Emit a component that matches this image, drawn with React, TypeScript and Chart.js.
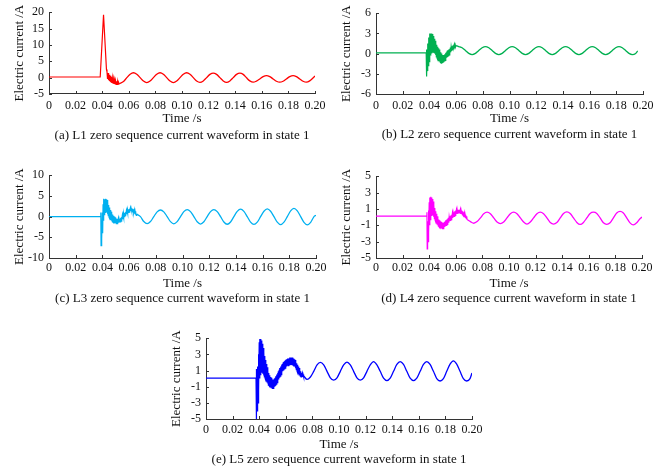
import React, { useEffect, useRef } from 'react';
import { Chart, registerables } from 'chart.js';

Chart.register(...registerables);

type Pt = [number, number];

// ---------- DATA (time in s, current in A) ----------
const timeTicks = { min: 0, max: 0.2, step: 0.02 };
const xTitle = 'Time /s';
const yTitle = 'Electric current /A';

// L1
const l1Transient: Pt[] = [
  [0, 0.2], [0.0385, 0.2], [0.041, 19.2], [0.0432, 2.5], [0.0436, 1.8], [0.044, -0.4], [0.0444, 1.4],
  [0.0448, -0.8], [0.0452, 0.9], [0.0456, -1.1], [0.046, 0.6], [0.0464, -1.4], [0.0468, 0.2],
  [0.0472, -1.6], [0.0476, -0.1], [0.048, -1.8], [0.0484, -0.4], [0.0488, -1.9], [0.0492, -0.7],
  [0.0496, -2.0], [0.05, -0.9], [0.0504, -2.1], [0.0508, -1.1], [0.0512, -2.1], [0.0516, -1.3],
  [0.052, -2.0], [0.0524, -1.5], [0.0528, -1.9],
];
const l1Steady: Pt[] = [
  [0.0528, -1.9], [0.056, -1.2], [0.0585, 0], [0.061, 1.05], [0.0635, 1.5], [0.066, 1.05], [0.0685, 0],
  [0.071, -1.05], [0.0735, -1.5], [0.076, -1.05], [0.0785, 0], [0.081, 1.05], [0.0835, 1.5], [0.086, 1.05],
  [0.0885, 0], [0.091, -1.05], [0.0935, -1.5], [0.096, -1.05], [0.0985, 0], [0.101, 1.05], [0.1035, 1.5],
  [0.106, 1.05], [0.1085, 0], [0.111, -1.05], [0.1135, -1.45], [0.116, -1.0], [0.1185, 0], [0.121, 1.0],
  [0.1235, 1.4], [0.126, 1.0], [0.1285, 0], [0.131, -1.0], [0.1335, -1.45], [0.136, -1.0], [0.1385, 0],
  [0.141, 1.0], [0.1435, 1.4], [0.146, 1.0], [0.1485, -0.05], [0.151, -1.0], [0.1535, -1.4], [0.156, -1.05],
  [0.1585, -0.4], [0.161, 0.3], [0.1635, 0.6], [0.166, 0.3], [0.1685, -0.4], [0.171, -1.1], [0.1735, -1.4],
  [0.176, -1.1], [0.1785, -0.4], [0.181, 0.3], [0.1835, 0.6], [0.186, 0.3], [0.1885, -0.4], [0.191, -1.1],
  [0.1935, -1.4], [0.196, -1.0], [0.2, 0.5],
];

// L2
const l2Transient: Pt[] = [
  [0, 0.1], [0.0376, 0.1], [0.0378, 0.6], [0.038, -3.4], [0.0383, 0.2], [0.0386, -2.6], [0.0389, 1.5],
  [0.0392, -1.8], [0.0395, 2.4], [0.0398, -1.2], [0.0401, 3.0], [0.0404, -0.6], [0.0407, 3.0], [0.041, -0.3],
  [0.0413, 2.9], [0.0416, 0.0], [0.0419, 3.0], [0.0422, 0.2], [0.0425, 2.9], [0.0428, 0.3], [0.0431, 2.6],
  [0.0434, 0.2], [0.0437, 2.2], [0.044, 0.0], [0.0443, 1.9], [0.0446, -0.2], [0.0449, 1.6], [0.0452, -0.5],
  [0.0455, 1.3], [0.0458, -0.7], [0.0461, 1.0], [0.0464, -0.9], [0.0467, 0.8], [0.047, -1.1], [0.0473, 0.6],
  [0.0476, -1.2], [0.0479, 0.4], [0.0482, -1.3], [0.0485, 0.2], [0.0488, -1.4], [0.0491, 0.0], [0.0494, -1.4],
  [0.0497, -0.2], [0.05, -1.4], [0.0503, -0.3], [0.0506, -1.3], [0.0509, -0.2], [0.0512, -1.1], [0.0515, -0.1],
  [0.0518, -1.0], [0.0521, 0.1], [0.0524, -0.8], [0.0527, 0.2], [0.053, -0.6], [0.0533, 0.4], [0.0536, -0.5],
  [0.0539, 0.5], [0.0542, -0.3], [0.0545, 0.6], [0.0548, -0.2], [0.0551, 0.7], [0.0554, 0.0], [0.0557, 0.9],
  [0.056, 0.2], [0.0563, 1.0], [0.0566, 0.4], [0.0569, 1.1], [0.0572, 0.6], [0.0575, 1.2], [0.0578, 0.8],
  [0.0581, 1.3], [0.0584, 1.0], [0.0587, 1.4], [0.059, 1.1], [0.0593, 1.3], [0.0596, 1.0], [0.06, 1.2],
];
const l2Steady: Pt[] = [
  [0.06, 1.2], [0.062, 1.05], [0.0645, 0.87], [0.067, 0.45], [0.0695, 0.03], [0.072, -0.15], [0.0745, 0.03],
  [0.077, 0.45], [0.0795, 0.87], [0.082, 1.05], [0.0845, 0.87], [0.087, 0.45], [0.0895, 0.03], [0.092, -0.15],
  [0.0945, 0.03], [0.097, 0.45], [0.0995, 0.87], [0.102, 1.05], [0.1045, 0.87], [0.107, 0.45], [0.1095, 0.03],
  [0.112, -0.15], [0.1145, 0.03], [0.117, 0.45], [0.1195, 0.87], [0.122, 1.05], [0.1245, 0.87], [0.127, 0.45],
  [0.1295, 0.03], [0.132, -0.15], [0.1345, 0.03], [0.137, 0.45], [0.1395, 0.87], [0.142, 1.05], [0.1445, 0.87],
  [0.147, 0.45], [0.1495, 0.03], [0.152, -0.15], [0.1545, 0.03], [0.157, 0.45], [0.1595, 0.87], [0.162, 1.05],
  [0.1645, 0.87], [0.167, 0.45], [0.1695, 0.03], [0.172, -0.15], [0.1745, 0.03], [0.177, 0.45], [0.1795, 0.87],
  [0.182, 1.05], [0.1845, 0.87], [0.187, 0.45], [0.1895, 0.03], [0.192, -0.15], [0.1945, 0.03], [0.196, 0.4],
];

// L3
const l3Transient: Pt[] = [
  [0, 0], [0.0387, 0], [0.0388, 1.0], [0.039, -7.0], [0.0393, -1.5], [0.0396, -5.5], [0.0399, 1.0],
  [0.0402, -4.0], [0.0405, 3.0], [0.0408, -1.0], [0.0411, 4.3], [0.0414, 0.5], [0.0417, 4.2], [0.042, 1.0],
  [0.0423, 4.3], [0.0426, 1.2], [0.0429, 4.2], [0.0432, 1.0], [0.0435, 4.0], [0.0438, 0.6], [0.0441, 3.5],
  [0.0444, 0.2], [0.0447, 2.8], [0.045, -0.2], [0.0453, 2.2], [0.0456, -0.5], [0.0459, 1.6], [0.0462, -0.8],
  [0.0465, 1.2], [0.0468, -1.0], [0.0471, 0.8], [0.0474, -1.2], [0.0477, 0.5], [0.048, -1.4], [0.0483, 0.2],
  [0.0486, -1.5], [0.0489, 0.0], [0.0492, -1.6], [0.0495, -0.2], [0.0498, -1.6], [0.0501, -0.4], [0.0504, -1.7],
  [0.0507, -0.5], [0.051, -1.7], [0.0513, -0.6], [0.0516, -1.6], [0.0519, -0.6], [0.0522, -1.5], [0.0525, -0.6],
  [0.0528, -1.4], [0.0531, -0.5], [0.0534, -1.3], [0.0537, -0.3], [0.054, -1.1], [0.0543, -0.1], [0.0546, -0.9],
  [0.0549, 0.2], [0.0552, -0.6], [0.0555, 0.4], [0.0558, -0.3], [0.0561, 0.7], [0.0564, 0.0], [0.0567, 0.9],
  [0.057, 0.2], [0.0573, 1.1], [0.0576, 0.4], [0.0579, 1.3], [0.0582, 0.6], [0.0585, 1.5], [0.0588, 0.8],
  [0.0591, 1.6], [0.0594, 1.0], [0.0597, 1.8], [0.06, 1.1], [0.0603, 1.9], [0.0606, 1.2], [0.0609, 2.0],
  [0.0612, 1.3], [0.0615, 2.0], [0.0618, 1.3], [0.0621, 2.0], [0.0624, 1.2], [0.0627, 1.9], [0.063, 1.1],
  [0.0633, 1.8], [0.0636, 0.9], [0.0639, 1.6], [0.0642, 0.7], [0.0645, 1.3], [0.0648, 0.5], [0.0651, 1.0],
  [0.0654, 0.3], [0.0657, 0.6],
];
const l3Steady: Pt[] = [
  [0.0657, 0.6], [0.0685, 0.0], [0.071, -1.2], [0.0735, -1.7], [0.076, -1.2], [0.0785, 0.0], [0.081, 1.15],
  [0.0835, 1.6], [0.086, 1.15], [0.0885, 0.0], [0.091, -1.2], [0.0935, -1.75], [0.096, -1.2], [0.0985, 0.0],
  [0.101, 1.2], [0.1035, 1.7], [0.106, 1.2], [0.1085, 0.0], [0.111, -1.25], [0.1135, -1.8], [0.116, -1.25],
  [0.1185, 0.0], [0.121, 1.2], [0.1235, 1.7], [0.126, 1.2], [0.1285, 0.0], [0.131, -1.3], [0.1335, -1.85],
  [0.136, -1.3], [0.1385, 0.0], [0.141, 1.25], [0.1435, 1.8], [0.146, 1.25], [0.1485, 0.0], [0.151, -1.35],
  [0.1535, -1.9], [0.156, -1.35], [0.1585, 0.0], [0.161, 1.3], [0.1635, 1.85], [0.166, 1.3], [0.1685, 0.0],
  [0.171, -1.35], [0.1735, -1.95], [0.176, -1.35], [0.1785, 0.0], [0.181, 1.4], [0.1835, 2.0], [0.186, 1.4],
  [0.1885, 0.0], [0.191, -1.4], [0.1935, -2.0], [0.196, -1.4], [0.1985, 0.0], [0.2, 0.3],
];

// L4
const l4Transient: Pt[] = [
  [0, 0.12], [0.0382, 0.12], [0.0383, 0.6], [0.0385, -3.9], [0.0388, -0.5], [0.0391, -3.0], [0.0394, 0.8],
  [0.0397, -2.0], [0.04, 1.8], [0.0403, -1.0], [0.0406, 2.4], [0.0409, -0.3], [0.0412, 2.5], [0.0415, 0.2],
  [0.0418, 2.4], [0.0421, 0.3], [0.0424, 2.2], [0.0427, 0.2], [0.043, 1.9], [0.0433, 0.0], [0.0436, 1.5],
  [0.0439, -0.2], [0.0442, 1.1], [0.0445, -0.4], [0.0448, 0.7], [0.0451, -0.6], [0.0454, 0.4], [0.0457, -0.8],
  [0.046, 0.1], [0.0463, -1.0], [0.0466, -0.1], [0.0469, -1.1], [0.0472, -0.3], [0.0475, -1.2], [0.0478, -0.4],
  [0.0481, -1.3], [0.0484, -0.5], [0.0487, -1.4], [0.049, -0.6], [0.0493, -1.4], [0.0496, -0.7], [0.0499, -1.4],
  [0.0502, -0.7], [0.0505, -1.4], [0.0508, -0.7], [0.0511, -1.3], [0.0514, -0.6], [0.0517, -1.2], [0.052, -0.5],
  [0.0523, -1.1], [0.0526, -0.4], [0.0529, -1.0], [0.0532, -0.3], [0.0535, -0.9], [0.0538, -0.2], [0.0541, -0.8],
  [0.0544, -0.1], [0.0547, -0.7], [0.055, 0.0], [0.0553, -0.5], [0.0556, 0.1], [0.0559, -0.4], [0.0562, 0.2],
  [0.0565, -0.3], [0.0568, 0.3], [0.0571, -0.2], [0.0574, 0.4], [0.0577, -0.1], [0.058, 0.5], [0.0583, 0.0],
  [0.0586, 0.6], [0.0589, 0.1], [0.0592, 0.7], [0.0595, 0.2], [0.0598, 0.8], [0.0601, 0.3], [0.0604, 0.8],
  [0.0607, 0.4], [0.061, 0.9], [0.0613, 0.4], [0.0616, 0.9], [0.0619, 0.5], [0.0622, 0.9], [0.0625, 0.5],
  [0.0628, 0.9], [0.0631, 0.5], [0.0634, 0.9], [0.0637, 0.4], [0.064, 0.8], [0.0643, 0.4], [0.0646, 0.8],
  [0.0649, 0.3], [0.0652, 0.7], [0.0655, 0.2], [0.0658, 0.6], [0.0661, 0.1], [0.0664, 0.5], [0.0667, 0.0],
  [0.067, 0.3], [0.0673, -0.1], [0.0676, 0.2], [0.0679, -0.2], [0.0682, 0.1], [0.0685, -0.3],
];
const l4Steady: Pt[] = [
  [0.0685, -0.3], [0.071, -0.55], [0.0735, -0.75], [0.076, -0.55], [0.0785, -0.1], [0.081, 0.4], [0.0835, 0.6],
  [0.086, 0.4], [0.0885, -0.1], [0.091, -0.6], [0.0935, -0.8], [0.096, -0.6], [0.0985, -0.1], [0.101, 0.4],
  [0.1035, 0.6], [0.106, 0.4], [0.1085, -0.1], [0.111, -0.6], [0.1135, -0.85], [0.116, -0.6], [0.1185, -0.1],
  [0.121, 0.4], [0.1235, 0.6], [0.126, 0.4], [0.1285, -0.1], [0.131, -0.65], [0.1335, -0.85], [0.136, -0.65],
  [0.1385, -0.1], [0.141, 0.45], [0.1435, 0.65], [0.146, 0.45], [0.1485, -0.1], [0.151, -0.65], [0.1535, -0.9],
  [0.156, -0.65], [0.1585, -0.1], [0.161, 0.45], [0.1635, 0.6], [0.166, 0.45], [0.1685, -0.1], [0.171, -0.7],
  [0.1735, -0.9], [0.176, -0.7], [0.1785, -0.1], [0.181, 0.5], [0.1835, 0.7], [0.186, 0.5], [0.1885, -0.1],
  [0.191, -0.7], [0.1935, -0.95], [0.196, -0.7], [0.1985, -0.2], [0.2, 0.0],
];

// L5
const l5Transient: Pt[] = [
  [0, 0.06], [0.0376, 0.06], [0.0377, 1.2], [0.0379, -5.3], [0.0382, 0.0], [0.0385, -4.0], [0.0388, 1.5],
  [0.0391, -3.0], [0.0394, 3.0], [0.0397, -1.5], [0.04, 4.5], [0.0403, 0.0], [0.0406, 4.9], [0.0409, 0.5],
  [0.0412, 4.9], [0.0415, 0.8], [0.0418, 4.7], [0.0421, 0.8], [0.0424, 4.3], [0.0427, 0.6], [0.043, 3.8],
  [0.0433, 0.4], [0.0436, 3.3], [0.0439, 0.2], [0.0442, 2.8], [0.0445, 0.0], [0.0448, 2.3], [0.0451, -0.2],
  [0.0454, 1.8], [0.0457, -0.4], [0.046, 1.4], [0.0463, -0.6], [0.0466, 1.0], [0.0469, -0.8], [0.0472, 0.7],
  [0.0475, -0.9], [0.0478, 0.4], [0.0481, -1.0], [0.0484, 0.2], [0.0487, -1.1], [0.049, 0.1], [0.0493, -1.2],
  [0.0496, 0.0], [0.0499, -1.2], [0.0502, -0.1], [0.0505, -1.2], [0.0508, -0.1], [0.0511, -1.1], [0.0514, 0.0],
  [0.0517, -1.0], [0.052, 0.1], [0.0523, -0.9], [0.0526, 0.3], [0.0529, -0.7], [0.0532, 0.5], [0.0535, -0.5],
  [0.0538, 0.7], [0.0541, -0.3], [0.0544, 0.9], [0.0547, -0.1], [0.055, 1.1], [0.0553, 0.1], [0.0556, 1.3],
  [0.0559, 0.3], [0.0562, 1.5], [0.0565, 0.5], [0.0568, 1.7], [0.0571, 0.7], [0.0574, 1.8], [0.0577, 0.9],
  [0.058, 2.0], [0.0583, 1.0], [0.0586, 2.1], [0.0589, 1.2], [0.0592, 2.2], [0.0595, 1.3], [0.0598, 2.3],
  [0.0601, 1.4], [0.0604, 2.4], [0.0607, 1.5], [0.061, 2.4], [0.0613, 1.6], [0.0616, 2.5], [0.0619, 1.6],
  [0.0622, 2.5], [0.0625, 1.7], [0.0628, 2.6], [0.0631, 1.7], [0.0634, 2.6], [0.0637, 1.7], [0.064, 2.6],
  [0.0643, 1.7], [0.0646, 2.6], [0.0649, 1.7], [0.0652, 2.6], [0.0655, 1.7], [0.0658, 2.5], [0.0661, 1.6],
  [0.0664, 2.4], [0.0667, 1.5], [0.067, 2.3], [0.0673, 1.3], [0.0676, 2.1], [0.0679, 1.1], [0.0682, 1.9],
  [0.0685, 0.9], [0.0688, 1.7], [0.0691, 0.7], [0.0694, 1.5], [0.0697, 0.5], [0.07, 1.3], [0.0703, 0.4],
  [0.0706, 1.1], [0.0709, 0.3], [0.0712, 0.9], [0.0715, 0.2], [0.0718, 0.7], [0.0721, 0.2], [0.0724, 0.6],
  [0.0727, 0.2], [0.073, 0.5], [0.0733, 0.2], [0.0736, 0.3],
];
const l5Steady: Pt[] = [
  [0.0736, 0.3], [0.076, -0.1], [0.0785, 0.2], [0.081, 0.9], [0.0835, 1.7], [0.086, 2.0], [0.0885, 1.7],
  [0.091, 0.9], [0.0935, 0.1], [0.096, -0.2], [0.0985, 0.1], [0.101, 0.9], [0.1035, 1.7], [0.106, 2.05],
  [0.1085, 1.7], [0.111, 0.9], [0.1135, 0.1], [0.116, -0.2], [0.1185, 0.1], [0.121, 0.9], [0.1235, 1.7],
  [0.126, 2.1], [0.1285, 1.7], [0.131, 0.9], [0.1335, 0.05], [0.136, -0.25], [0.1385, 0.05], [0.141, 0.9],
  [0.1435, 1.75], [0.146, 2.1], [0.1485, 1.75], [0.151, 0.9], [0.1535, 0.05], [0.156, -0.25], [0.1585, 0.05],
  [0.161, 0.9], [0.1635, 1.75], [0.166, 2.1], [0.1685, 1.75], [0.171, 0.9], [0.1735, 0.0], [0.176, -0.3],
  [0.1785, 0.0], [0.181, 0.9], [0.1835, 1.8], [0.186, 2.2], [0.1885, 1.8], [0.191, 0.9], [0.1935, 0.0],
  [0.196, -0.3], [0.1985, 0.0], [0.2, 0.7],
];

// ---------- PANEL SETUP (styles / layout) ----------
const FONT = "'Liberation Serif', 'Times New Roman', Times, serif";
const TEXT = '#111';
const AXIS = '#333';
const TICK_SIZE = 12;
const TITLE_SIZE = 13;
const LH_TICK = TICK_SIZE * 1.2;
const LH_TITLE = TITLE_SIZE * 1.2;

type Panel = {
  caption: string; color: string; transient: Pt[]; steady: Pt[];
  yMin: number; yMax: number; yStep: number;
  cl: number; cr: number; ct: number; cb: number; tickY: number; timeY: number; capY: number;
};

const panels: Panel[] = [
  { caption: '(a) L1 zero sequence current waveform in state 1', color: '#ff0000', transient: l1Transient, steady: l1Steady,
    yMin: -5, yMax: 20, yStep: 5, cl: 49, cr: 315, ct: 12, cb: 94, tickY: 106, timeY: 119, capY: 136 },
  { caption: '(b) L2 zero sequence current waveform in state 1', color: '#00b050', transient: l2Transient, steady: l2Steady,
    yMin: -6, yMax: 6, yStep: 3, cl: 376, cr: 643, ct: 13, cb: 94, tickY: 106, timeY: 119, capY: 135 },
  { caption: '(c) L3 zero sequence current waveform in state 1', color: '#00b0f0', transient: l3Transient, steady: l3Steady,
    yMin: -10, yMax: 10, yStep: 5, cl: 49, cr: 316, ct: 175, cb: 258, tickY: 268, timeY: 284, capY: 299 },
  { caption: '(d) L4 zero sequence current waveform in state 1', color: '#ff00ff', transient: l4Transient, steady: l4Steady,
    yMin: -5, yMax: 5, yStep: 2, cl: 376, cr: 642, ct: 176, cb: 258, tickY: 268, timeY: 284, capY: 299 },
  { caption: '(e) L5 zero sequence current waveform in state 1', color: '#0000ff', transient: l5Transient, steady: l5Steady,
    yMin: -5, yMax: 5, yStep: 2, cl: 206, cr: 472, ct: 338, cb: 419, tickY: 430, timeY: 445, capY: 460 },
];

const inwardTicks = {
  id: 'inwardTicks',
  afterDraw(chart: any) {
    const { ctx, chartArea, scales } = chart;
    ctx.save();
    ctx.strokeStyle = AXIS;
    ctx.lineWidth = 1;
    ctx.beginPath();
    scales.x.ticks.forEach((t: any) => {
      const px = Math.round(scales.x.getPixelForValue(t.value)) + 0.5;
      ctx.moveTo(px, chartArea.bottom);
      ctx.lineTo(px, chartArea.bottom - 3);
    });
    scales.y.ticks.forEach((t: any) => {
      const py = Math.round(scales.y.getPixelForValue(t.value)) + 0.5;
      ctx.moveTo(chartArea.left, py);
      ctx.lineTo(chartArea.left + 3, py);
    });
    ctx.stroke();
    ctx.restore();
  },
};

function PanelChart({ p }: { p: Panel }) {
  const ref = useRef<HTMLCanvasElement>(null);
  const YW = 49;
  const PT = 12;
  const PR = 22;
  const left = p.cl - YW;
  const top = p.ct - PT;
  const width = p.cr - p.cl + YW + PR;
  const hx = p.timeY - p.cb + LH_TITLE / 2;
  const tickPad = p.tickY - p.cb - LH_TICK / 2;
  const capPad = p.capY - p.cb - hx - LH_TITLE / 2;
  const need = PT + (p.cb - p.ct) + hx + capPad + LH_TITLE;
  const height = Math.ceil(need) + 3;
  const padBottom = height - need;

  useEffect(() => {
    if (!ref.current) return;
    const chart = new Chart(ref.current, {
      type: 'line',
      data: {
        datasets: [
          {
            data: p.transient.map(([x, y]) => ({ x, y })),
            borderColor: p.color, borderWidth: 1.2, pointRadius: 0, tension: 0, fill: false,
          },
          {
            data: p.steady.map(([x, y]) => ({ x, y })),
            borderColor: p.color, borderWidth: 1.3, pointRadius: 0, cubicInterpolationMode: 'monotone', fill: false,
          },
        ],
      },
      options: {
        responsive: false,
        animation: false,
        devicePixelRatio: 1,
        events: [],
        layout: { padding: { left: 0, right: PR, top: PT, bottom: padBottom } },
        plugins: {
          legend: { display: false },
          tooltip: { enabled: false },
          title: {
            display: true, text: p.caption, position: 'bottom', fullSize: false, color: TEXT,
            font: { family: FONT, size: TITLE_SIZE, weight: 'normal' }, padding: { top: capPad, bottom: 0 },
          },
        },
        scales: {
          x: {
            type: 'linear', min: timeTicks.min, max: timeTicks.max,
            grid: { display: true, drawOnChartArea: false, drawTicks: false },
            border: { display: true, color: AXIS, width: 1 },
            ticks: {
              stepSize: timeTicks.step, autoSkip: false, maxRotation: 0, minRotation: 0, padding: tickPad,
              color: TEXT, font: { family: FONT, size: TICK_SIZE },
              callback: (v: any) => (Math.abs(Number(v)) < 1e-9 ? '0' : Number(v).toFixed(2)),
            },
            title: { display: true, text: xTitle, color: TEXT, font: { family: FONT, size: TITLE_SIZE }, padding: { top: 0, bottom: 0 } },
            afterFit: (s: any) => { s.height = hx; },
          },
          y: {
            type: 'linear', min: p.yMin, max: p.yMax,
            grid: { display: true, drawOnChartArea: false, drawTicks: false },
            border: { display: true, color: AXIS, width: 1 },
            ticks: { stepSize: p.yStep, autoSkip: false, padding: 5, color: TEXT, font: { family: FONT, size: TICK_SIZE } },
            title: { display: true, text: yTitle, color: TEXT, font: { family: FONT, size: TITLE_SIZE }, padding: { top: 12, bottom: 0 } },
            afterFit: (s: any) => { s.width = YW; },
          },
        },
      },
      plugins: [inwardTicks],
    } as any);
    return () => chart.destroy();
  }, []);

  return (
    <canvas
      ref={ref}
      width={width}
      height={height}
      style={{ position: 'absolute', left, top, width, height }}
    />
  );
}

export default function App() {
  return (
    <div style={{ position: 'fixed', left: 0, top: 0, width: 667, height: 473, background: '#fff', overflow: 'hidden' }}>
      {panels.map((p, i) => (
        <PanelChart key={i} p={p} />
      ))}
    </div>
  );
}
